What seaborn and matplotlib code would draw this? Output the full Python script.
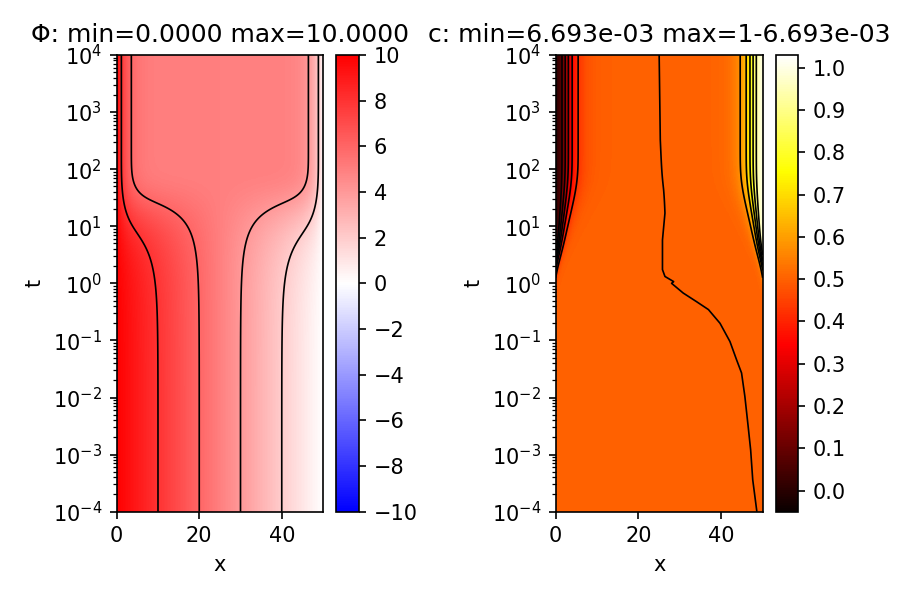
import numpy as np
import matplotlib
matplotlib.use("Agg")
import matplotlib.pyplot as plt
import seaborn as sns

# values
x_max = 50.0
phi_left, phi_right, phi_bulk = 10.0, 0.0, 5.0      # electrode / late-time bulk potential
debye_phi = 2.2                                      # boundary layer width seen in the phi contours
debye_c = 2.0                                        # boundary layer width seen in the c contours
tau_phi = 22.0                                       # time when the phi contours move
c_onset_logt, c_onset_width = 0.52, 0.16             # when the c layers switch on (log10 t)
tau_c = 28.0                                         # time for the c layers to reach full width
phi_levels = [2, 4, 6, 8]
c_min = 6.693e-03
c_max = 1 - 6.693e-03

# path of the wandering c = 0.5 contour (log10 t, x)
mid_logt = [-4.0, -3.44, -2.92, -2.51, -1.98, -1.57, -1.34, -1.02, -0.70, -0.46,
            -0.32, -0.17, 0.0, 0.03, 0.12, 0.24, 0.76, 1.23, 1.64, 2.51, 4.0]
mid_x = [48.6, 47.6, 47.1, 46.5, 45.7, 44.9, 43.7, 42.1, 39.7, 36.9,
         34.0, 30.8, 28.0, 28.5, 26.4, 25.8, 25.8, 26.4, 26.2, 25.4, 25.0]

x = np.linspace(0, x_max, 501)
logt = np.linspace(-4, 4, 801)
X, LT = np.meshgrid(x, logt)
T = 10.0 ** LT

# phi: linear start, relaxing to a screened profile
phi_lin = phi_left + (phi_right - phi_left) * X / x_max
phi_eq = (phi_bulk + (phi_left - phi_bulk) * np.exp(-X / debye_phi)
          + (phi_right - phi_bulk) * np.exp(-(x_max - X) / debye_phi))
w_phi = 1 - np.exp(-T / tau_phi)
phi = (1 - w_phi) * phi_lin + w_phi * phi_eq

# c: 0.5 everywhere, boundary layers switch on and widen
amp = (phi_left - phi_bulk) / (1 + np.exp(-(LT - c_onset_logt) / c_onset_width))
lam = debye_c * np.sqrt(1 - np.exp(-T / tau_c))
pot_c = amp * (np.exp(-X / lam) - np.exp(-(x_max - X) / lam))
x_mid = np.interp(LT, mid_logt, mid_x)
c = 1.0 / (1.0 + np.exp(pot_c)) + 1e-5 * (X - x_mid)

sns.reset_orig()
plt.rcParams["font.family"] = "DejaVu Sans"
cmap_phi = sns.color_palette("bwr", as_cmap=True)
cmap_c = sns.color_palette("hot", as_cmap=True)

fig = plt.figure(figsize=(6, 4), dpi=150)
ax1 = fig.add_axes([0.1297, 0.1472, 0.2292, 0.7612])
cax1 = fig.add_axes([0.3730, 0.1472, 0.0262, 0.7612])
ax2 = fig.add_axes([0.6174, 0.1472, 0.2300, 0.7612])
cax2 = fig.add_axes([0.8619, 0.1472, 0.0252, 0.7612])

m1 = ax1.pcolormesh(X, T, phi, cmap=cmap_phi, vmin=-10, vmax=10, shading="auto", rasterized=True)
ax1.contour(X, T, phi, levels=phi_levels, colors="k", linewidths=0.8)
fig.colorbar(m1, cax=cax1, ticks=np.arange(-10, 11, 2))
ax1.set_title("Φ: min=0.0000 max=10.0000")

c_levels = np.linspace(c_min, c_max, 13)[1:-1]
m2 = ax2.pcolormesh(X, T, c, cmap=cmap_c, vmin=-0.05, vmax=1.03, shading="auto", rasterized=True)
ax2.contour(X, T, c, levels=c_levels, colors="k", linewidths=0.8)
fig.colorbar(m2, cax=cax2, ticks=np.arange(0, 1.01, 0.1))
ax2.set_title("c: min=6.693e-03 max=1-6.693e-03")

for ax in (ax1, ax2):
    ax.set_yscale("log")
    ax.set_ylim(1e-4, 1e4)
    ax.set_xlim(0, x_max)
    ax.set_yticks(10.0 ** np.arange(-4, 5))
    ax.set_xticks([0, 20, 40])
    ax.set_xlabel("x")
    ax.set_ylabel("t")

fig.savefig("out.png", dpi=150)
